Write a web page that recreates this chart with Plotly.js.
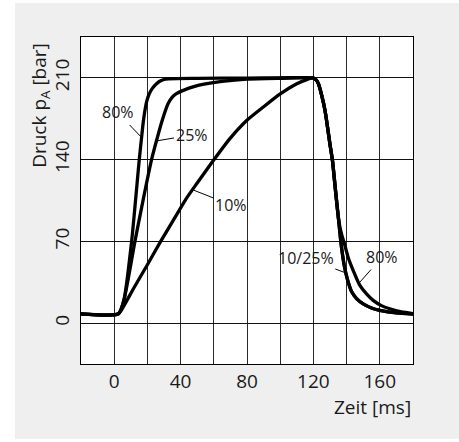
<!DOCTYPE html>
<html>
<head>
<meta charset="utf-8">
<script src="https://cdn.plot.ly/plotly-3.0.1.min.js"></script>
<style>html,body{margin:0;padding:0;background:#fff;}#chart{width:459px;height:442px;}</style>
</head>
<body>
<div id="chart"></div>
<script>
// Time [ms] and pressure [bar]
const time10 = [-20, 2.5, 5.5, 12, 20, 28, 36, 43.6, 50, 59.6, 69.7, 79.8, 89.8, 99.8, 110, 116, 119.5, 121.5, 123, 125, 127, 128.5, 130, 131.5, 133, 134.3, 135.5, 136.5, 137.5, 138.5, 139.5, 141, 143, 146, 150, 155, 160, 170, 180];
const p10    = [8, 8, 14, 30.5, 50, 70, 89, 107, 120, 139, 158, 173.5, 185, 196, 205, 208.5, 210, 208.5, 205, 195, 182, 168, 153, 139, 118, 100, 84, 70, 59, 50, 43, 35, 27, 21, 16.5, 13, 11, 8.7, 7.8];

const time25 = [-20, 2.5, 5.8, 12.5, 17.5, 22.5, 26, 29, 32.5, 35, 37.5, 42, 48, 55, 65, 80, 100, 119.5, 121.5, 123, 125, 127, 128.5, 130, 131.5, 133, 134.3, 135.5, 136.5, 137.5, 138.5, 139.5, 141, 143, 146, 150, 155, 160, 170, 180];
const p25    = [8, 8, 19.4, 70, 106, 140, 159, 174, 188, 193.5, 196.5, 199.5, 202.5, 204.8, 207, 209, 209.7, 210, 208.5, 205, 195, 182, 168, 153, 139, 118, 100, 84, 70, 59, 50, 43, 35, 27, 21, 16.5, 13, 11, 8.7, 7.8];

const time80 = [-20, 2.5, 5.8, 10.5, 15.1, 16.5, 17.5, 18.5, 19.5, 21, 23, 25.5, 28, 31, 50, 80, 100, 119.5, 121.5, 123, 125, 127, 128.5, 130, 131.5, 133, 134.3, 135.5, 137, 138.5, 141, 144, 148, 152, 156, 161, 166, 173, 180];
const p80    = [8, 8, 19.4, 70, 140, 159, 172, 182, 189.5, 196, 201, 205, 207.5, 209, 209.6, 209.8, 210, 210, 208.5, 205, 195, 182, 168, 153, 139, 118, 100, 86, 76, 69, 56, 45, 32.3, 25, 19.5, 15, 12.3, 9.6, 8.2];

const xTickVals  = [0, 40, 80, 120, 160];
const xTickText  = ['0', '40', '80', '120', '160'];
const yTickVals  = [0, 70, 140, 210];
const yTickText  = ['0', '70', '140', '210'];

// Curve labels: text, target point on curve, label offset (px)
const labelText = ['80%', '25%', '10%', '10/25%', '80%'];
const labelX    = [16.5, 25.5, 47.6, 139.5, 147];
const labelY    = [159, 156, 114, 43, 33.5];
const labelAX   = [-24, 35, 38, -40, 24];
const labelAY   = [-25, -6, 15, -15, -27];

const FONT = '"Open Sans", "Noto Sans", sans-serif';
const lineStyle = {color: '#000', width: 3.3, shape: 'spline', smoothing: 0.6};

const traces = [
  {x: time10, y: p10, mode: 'lines', line: lineStyle, name: '10%', hoverinfo: 'skip'},
  {x: time25, y: p25, mode: 'lines', line: lineStyle, name: '25%', hoverinfo: 'skip'},
  {x: time80, y: p80, mode: 'lines', line: lineStyle, name: '80%', hoverinfo: 'skip'}
];

const annotations = labelText.map((t, i) => ({
  x: labelX[i], y: labelY[i], xref: 'x', yref: 'y',
  text: t, showarrow: true, arrowhead: 0, arrowwidth: 1, arrowcolor: '#000',
  ax: labelAX[i], ay: labelAY[i], standoff: 0, startstandoff: 0,
  bgcolor: 'rgba(255,255,255,0)', borderpad: 1,
  font: {family: FONT, size: 16, color: '#1a1a1a'}
}));

annotations.push({
  xref: 'paper', yref: 'paper', x: 1, y: -0.13, xanchor: 'right', yanchor: 'middle',
  text: 'Zeit [ms]', showarrow: false,
  font: {family: FONT, size: 19, color: '#1a1a1a'}
});
annotations.push({
  xref: 'paper', yref: 'paper', x: -0.123, y: 0.79, xanchor: 'center', yanchor: 'middle',
  text: 'Druck p<sub>A</sub> [bar]', textangle: -90, showarrow: false,
  font: {family: FONT, size: 19, color: '#1a1a1a'}
});

const gridCol = '#2a2a2a';
const layout = {
  width: 459, height: 442,
  margin: {l: 81, r: 46, t: 37, b: 78, pad: 0},
  paper_bgcolor: '#ffffff',
  plot_bgcolor: 'rgba(0,0,0,0)',
  showlegend: false,
  font: {family: FONT, size: 19, color: '#1a1a1a'},
  xaxis: {
    range: [-20, 180], tickmode: 'array', tickvals: xTickVals, ticktext: xTickText,
    showgrid: true, gridcolor: gridCol, gridwidth: 1, zeroline: false,
    minor: {tick0: 0, dtick: 20, showgrid: true, gridcolor: gridCol, gridwidth: 1, ticks: ''},
    showline: true, linecolor: '#000', linewidth: 1, mirror: true,
    ticks: '', tickfont: {family: FONT, size: 19, color: '#1a1a1a'}, fixedrange: true
  },
  yaxis: {
    range: [-35, 245], tickmode: 'array', tickvals: yTickVals, ticktext: yTickText,
    showgrid: true, gridcolor: '#111', gridwidth: 1, zeroline: false,
    showline: true, linecolor: '#000', linewidth: 1, mirror: true,
    ticks: '', tickangle: -90, ticklabelstandoff: 3,
    tickfont: {family: FONT, size: 19, color: '#1a1a1a'}, fixedrange: true
  },
  shapes: [
    {type: 'rect', xref: 'paper', yref: 'paper', x0: -0.1988, x1: 1.14, y0: -0.229, y1: 1.104,
     fillcolor: '#efefef', line: {width: 0}, layer: 'below'},
    {type: 'rect', xref: 'paper', yref: 'paper', x0: 0, x1: 1, y0: 0, y1: 1,
     fillcolor: '#ffffff', line: {width: 0}, layer: 'below'}
  ],
  annotations: annotations
};

Plotly.newPlot('chart', traces, layout, {displayModeBar: false, staticPlot: true});
</script>
</body>
</html>
